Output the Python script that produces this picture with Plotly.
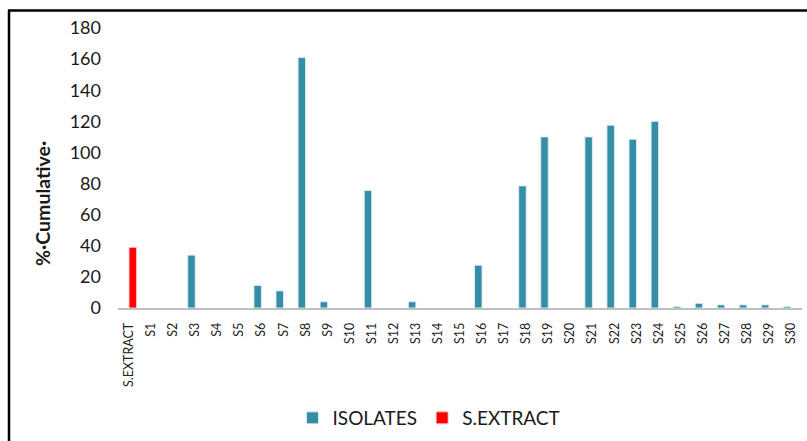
import plotly.graph_objects as go

categories = ["S.EXTRACT"] + [f"S{i}" for i in range(1, 31)]
isolates = [None, 0, 0, 34, 0, 0, 14.5, 11, 161, 4, 0, 75.5, 0, 4, 0, 0, 27.5, 0,
            78.5, 110, 0, 110, 117.5, 108.5, 120, 1, 3, 2, 2, 2, 1]
extract_cats = ["S.EXTRACT"]
extract_vals = [39]
y_ticks = list(range(0, 181, 20))

W, H = 807, 441
L, R, T, B = 118, 5, 28, 133
pw, ph = W - L - R, H - T - B

def px_x(p):
    return (p - L) / pw

def px_y(p):
    return (H - B - p) / ph

# zero values are drawn as no bar at all
iso_plot = [v if v else None for v in isolates]

fig = go.Figure()
fig.add_trace(go.Bar(
    x=categories, y=iso_plot, name="ISOLATES",
    marker=dict(color="#368EA6", line=dict(color="rgba(220,240,245,0.9)", width=1)),
))
fig.add_trace(go.Bar(
    x=extract_cats, y=extract_vals, name="S.EXTRACT",
    marker=dict(color="#FF0000", line=dict(color="rgba(255,200,200,0.9)", width=1)),
))

fig.update_layout(
    width=W, height=H,
    margin=dict(l=L, r=R, t=T, b=B, autoexpand=False),
    paper_bgcolor="white", plot_bgcolor="white",
    barmode="group", bargap=0.32, bargroupgap=0,
    font=dict(family="Lato, sans-serif", color="#1a1a1a"),
    showlegend=True,
    legend=dict(
        orientation="h", x=px_x(429), y=px_y(418), xanchor="center", yanchor="middle",
        font=dict(size=19, color="#1a1a1a"), itemwidth=30, tracegroupgap=0,
    ),
    xaxis=dict(
        type="category", categoryorder="array", categoryarray=categories,
        tickangle=-90, tickfont=dict(size=12.5, color="#222"),
        showline=True, linecolor="#BFBFBF", linewidth=1.5,
        showgrid=False, ticks="", ticklabelstandoff=8, zeroline=False,
        automargin=False,
    ),
    yaxis=dict(
        range=[0, 180], tickvals=y_ticks, ticktext=[str(v) for v in y_ticks],
        tickfont=dict(size=18, color="#1a1a1a"),
        showgrid=False, showline=False, zeroline=False, ticks="",
        ticklabelstandoff=16, automargin=False,
    ),
    annotations=[dict(
        text="<b>%·Cumulative·</b>", textangle=-90,
        xref="paper", yref="paper", x=px_x(42), y=px_y(204),
        xanchor="center", yanchor="middle", showarrow=False,
        font=dict(size=19.5, color="#1a1a1a"),
    )],
    shapes=[
        dict(type="line", xref="paper", yref="paper",
             x0=px_x(9), x1=px_x(9), y0=px_y(470), y1=px_y(10),
             line=dict(color="black", width=2.5)),
        dict(type="line", xref="paper", yref="paper",
             x0=px_x(8), x1=px_x(830), y0=px_y(10.5), y1=px_y(10.5),
             line=dict(color="black", width=2.5)),
    ],
)

fig.write_html(
    "out.html",
    config={"displayModeBar": False},
    post_script="document.body.style.margin='0';document.body.style.overflow='hidden';",
)
